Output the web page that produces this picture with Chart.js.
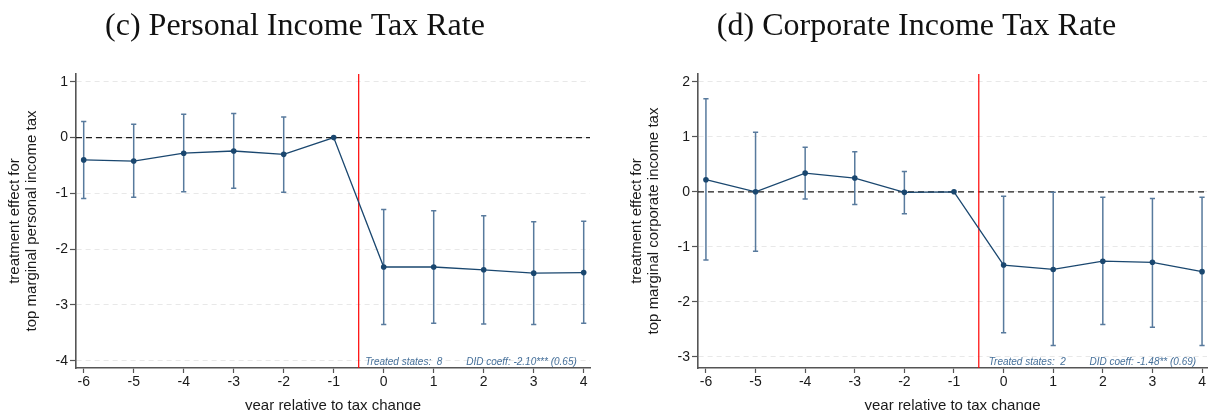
<!DOCTYPE html>
<html>
<head>
<meta charset="utf-8">
<script src="https://cdn.jsdelivr.net/npm/chart.js@4.4.0/dist/chart.umd.min.js"></script>
<style>
  html, body { margin: 0; padding: 0; background: #fff; overflow: hidden; }
  body { width: 1211px; height: 410px; position: relative; }
  canvas { position: absolute; top: 0; }
  #chartPersonal { left: 0; }
  #chartCorporate { left: 622px; }
</style>
</head>
<body>
<canvas id="chartPersonal" width="605" height="417"></canvas>
<canvas id="chartCorporate" width="589" height="417"></canvas>
<script>
// event-study estimates

const years = [-6, -5, -4, -3, -2, -1, 0, 1, 2, 3, 4];

const personalCoef = [-0.40, -0.42, -0.28, -0.24, -0.30, 0, -2.32, -2.32, -2.37, -2.43, -2.42];
const personalLo = [-1.09, -1.07, -0.97, -0.91, -0.98, null, -3.35, -3.33, -3.34, -3.35, -3.33];
const personalHi = [0.29, 0.24, 0.42, 0.43, 0.37, null, -1.29, -1.31, -1.40, -1.51, -1.50];

const corporateCoef = [0.22, 0.00, 0.34, 0.25, -0.01, 0, -1.33, -1.41, -1.26, -1.28, -1.45];
const corporateLo = [-1.24, -1.08, -0.13, -0.23, -0.40, null, -2.56, -2.79, -2.41, -2.46, -2.79];
const corporateHi = [1.69, 1.08, 0.81, 0.73, 0.37, null, -0.08, -0.01, -0.10, -0.12, -0.10];

const personalYTicks = [1, 0, -1, -2, -3, -4];
const corporateYTicks = [2, 1, 0, -1, -2, -3];

const eventLine = -0.5;

const NAVY = "#1a476f";
const CI_COLOR = "#587a9d";
const NOTE_COLOR = "#46709a";
const SANS = "'Liberation Sans', Arial, sans-serif";

/* ---------- Plugin: reference lines, CIs, notes ---------- */

const eventStudyPlugin = {
  id: "eventStudy",
  beforeDatasetsDraw(chart, args, opts) {
    const { ctx, chartArea } = chart;
    const x = chart.scales.x;
    const y = chart.scales.y;

    ctx.save();

    // dashed zero line
    const y0 = y.getPixelForValue(0);
    ctx.strokeStyle = "#1e1e1e";
    ctx.lineWidth = 1.2;
    ctx.setLineDash([6, 4]);
    ctx.beginPath();
    ctx.moveTo(chartArea.left, y0);
    ctx.lineTo(chartArea.right, y0);
    ctx.stroke();
    ctx.setLineDash([]);

    // treatment timing
    const xe = x.getPixelForValue(eventLine);
    ctx.strokeStyle = "#ff0000";
    ctx.lineWidth = 1.2;
    ctx.beginPath();
    ctx.moveTo(xe, chartArea.top);
    ctx.lineTo(xe, chartArea.bottom);
    ctx.stroke();

    // confidence intervals with caps
    ctx.strokeStyle = CI_COLOR;
    ctx.lineWidth = 1.5;
    opts.lo.forEach((lo, i) => {
      const hi = opts.hi[i];
      if (lo === null || hi === null) return;
      const px = x.getPixelForValue(years[i]);
      const pLo = y.getPixelForValue(lo);
      const pHi = y.getPixelForValue(hi);
      ctx.beginPath();
      ctx.moveTo(px, pLo);
      ctx.lineTo(px, pHi);
      ctx.moveTo(px - 2.6, pLo);
      ctx.lineTo(px + 2.6, pLo);
      ctx.moveTo(px - 2.6, pHi);
      ctx.lineTo(px + 2.6, pHi);
      ctx.stroke();
    });

    ctx.restore();
  },
  afterDraw(chart, args, opts) {
    const { ctx } = chart;
    const x = chart.scales.x;
    const y = chart.scales.y;
    ctx.save();
    ctx.fillStyle = NOTE_COLOR;
    ctx.font = "italic 10px " + SANS;
    ctx.textBaseline = "middle";
    ctx.textAlign = "left";
    opts.notes.forEach((n) => {
      ctx.fillText(n.text, x.getPixelForValue(n.x), y.getPixelForValue(n.y));
    });
    ctx.restore();
  }
};

/* ---------- Chart builder ---------- */

function makeChart(canvasId, cfg) {
  const ctx = document.getElementById(canvasId).getContext("2d");
  return new Chart(ctx, {
    type: "line",
    data: {
      datasets: [
        {
          data: years.map((yr, i) => ({ x: yr, y: cfg.coef[i] })),
          borderColor: NAVY,
          backgroundColor: NAVY,
          borderWidth: 1.3,
          pointRadius: 2.8,
          pointBackgroundColor: NAVY,
          pointBorderWidth: 0,
          tension: 0
        }
      ]
    },
    options: {
      responsive: false,
      animation: false,
      devicePixelRatio: 1,
      layout: { padding: { left: 0, right: cfg.padRight, top: 0, bottom: 0 } },
      plugins: {
        legend: { display: false },
        tooltip: { enabled: false },
        title: {
          display: true,
          text: cfg.title,
          color: "#111",
          font: { family: "'Liberation Serif', 'Times New Roman', serif", size: 32, weight: "normal", lineHeight: 1.2 },
          padding: { top: 7.5, bottom: 28.1 }
        },
        eventStudy: { lo: cfg.lo, hi: cfg.hi, notes: cfg.notes }
      },
      scales: {
        x: {
          type: "linear",
          min: cfg.xMin,
          max: cfg.xMax,
          afterBuildTicks: (scale) => {
            scale.ticks = years.map((v) => ({ value: v }));
          },
          afterFit: (scale) => {
            scale.height = 49;
          },
          grid: {
            drawOnChartArea: false,
            drawTicks: true,
            tickLength: 5,
            tickColor: "#555",
            tickWidth: 1.2
          },
          border: { display: true, color: "#555", width: 1.6 },
          ticks: {
            color: "#1a1a1a",
            padding: 1,
            font: { family: SANS, size: 14 },
            callback: (v) => String(v)
          },
          title: {
            display: true,
            text: "year relative to tax change",
            color: "#1a1a1a",
            font: { family: SANS, size: 15, lineHeight: 1.15 },
            padding: { top: 0, bottom: 2.4 }
          }
        },
        y: {
          type: "linear",
          min: cfg.yMin,
          max: cfg.yMax,
          afterBuildTicks: (scale) => {
            scale.ticks = cfg.yTicks.map((v) => ({ value: v }));
          },
          afterFit: (scale) => {
            scale.width = 76;
          },
          grid: {
            color: "#e8e8e8",
            lineWidth: 1,
            tickLength: 6,
            tickColor: "#555",
            tickWidth: 1.2,
            tickBorderDash: []
          },
          border: { display: true, color: "#555", width: 1.6, dash: [5, 4] },
          ticks: {
            color: "#1a1a1a",
            padding: 2,
            font: { family: SANS, size: 14 },
            callback: (v) => String(v)
          },
          title: {
            display: true,
            text: cfg.yTitle,
            color: "#1a1a1a",
            font: { family: SANS, size: 15, lineHeight: 1.15 },
            padding: { top: 6.4, bottom: 0 }
          }
        }
      }
    },
    plugins: [eventStudyPlugin]
  });
}

makeChart("chartPersonal", {
  title: "(c) Personal Income Tax Rate",
  yTitle: ["treatment effect for", "top marginal personal income tax"],
  coef: personalCoef,
  lo: personalLo,
  hi: personalHi,
  yTicks: personalYTicks,
  xMin: -6.154,
  xMax: 4.126,
  yMin: -4.13,
  yMax: 1.14,
  padRight: 15,
  notes: [
    { text: "Treated states:  8", x: -0.37, y: -4.02 },
    { text: "DID coeff: -2.10*** (0.65)", x: 1.65, y: -4.02 }
  ]
});

makeChart("chartCorporate", {
  title: "(d) Corporate Income Tax Rate",
  yTitle: ["treatment effect for", "top marginal corporate income tax"],
  coef: corporateCoef,
  lo: corporateLo,
  hi: corporateHi,
  yTicks: corporateYTicks,
  xMin: -6.16,
  xMax: 4.10,
  yMin: -3.2,
  yMax: 2.14,
  padRight: 0,
  notes: [
    { text: "Treated states:  2", x: -0.3, y: -3.09 },
    { text: "DID coeff: -1.48** (0.69)", x: 1.73, y: -3.09 }
  ]
});
</script>
</body>
</html>
